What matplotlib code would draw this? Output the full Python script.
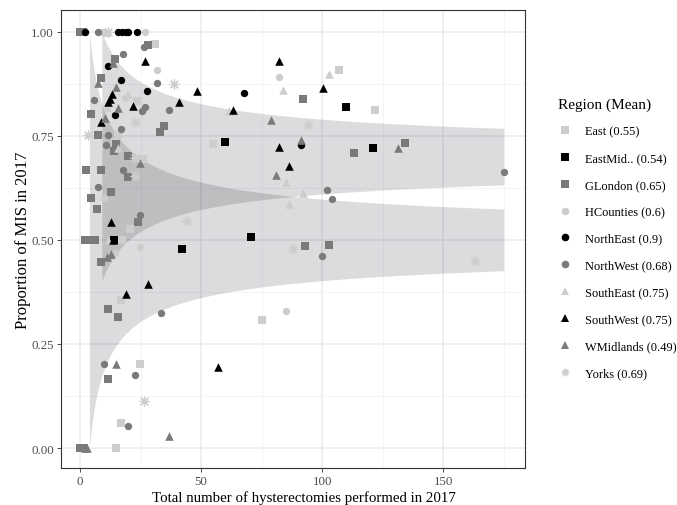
import matplotlib
matplotlib.use("Agg")
import matplotlib.pyplot as plt
from matplotlib.lines import Line2D
import numpy as np

plt.rcParams['font.family'] = ['Liberation Serif', 'DejaVu Serif']

# funnel settings (95% limits around two reference proportions)
Z = 1.96
P_UPPER = 0.70
P_LOWER = 0.50
N_MAX = 175

# points per region: (hysterectomies, proportion MIS)
east_x = [24.7, 16.7, 14.8, 75, 20.8, 17.5, 16.7, 14.6, 25.8, 30.9, 23.7, 15.7, 55, 106.9, 121.9]
east_y = [0.202, 0.060, 0.0, 0.308, 0.526, 0.5, 0.355, 0.734, 0.694, 0.970, 0.834, 0.752, 0.730, 0.908, 0.813]

eastmid_x = [0.5, 14, 41.9, 59.8, 70.8, 109.9, 121.2]
eastmid_y = [0.0, 0.5, 0.478, 0.734, 0.508, 0.820, 0.720]

glondon_x = [0, 1, 0, 1.5, 11.7, 15.7, 11.6, 8.8, 2, 4, 6, 23.8, 6.8, 4.7, 12.7, 19.6, 2.6, 8.8,
             19.6, 13.8, 7.4, 4.7, 34.7, 32.9, 8.8, 14.3, 27.9, 91.9, 113, 134.1, 93, 102.9, 15]
glondon_y = [1.0, 1.0, 0.0, 0.0, 0.167, 0.315, 0.335, 0.446, 0.5, 0.5, 0.5, 0.543, 0.574, 0.600, 0.616,
             0.651, 0.667, 0.667, 0.702, 0.714, 0.752, 0.802, 0.774, 0.758, 0.890, 0.934, 0.968,
             0.838, 0.709, 0.733, 0.485, 0.487, 0.730]

hcounties_x = [27, 9.5, 9.8, 24.7, 14.5, 31.6, 18.5, 82.1, 84.9]
hcounties_y = [1.0, 1.0, 0.600, 0.482, 0.468, 0.908, 0.842, 0.892, 0.330]

northeast_x = [2, 15.7, 17.4, 18.9, 19.8, 23.7, 11.6, 16.8, 27.6, 14.6, 67.8, 91.1]
northeast_y = [1.0, 1.0, 1.0, 1.0, 1.0, 1.0, 0.918, 0.884, 0.858, 0.800, 0.854, 0.728]

northwest_x = [7.3, 9.7, 22.6, 19.8, 33.6, 24.7, 7.5, 10.5, 17.8, 5.8, 36.8, 25.6, 26.6, 16.8,
               11.6, 17.8, 26.2, 31.6, 175.3, 102, 104, 100]
northwest_y = [1.0, 0.202, 0.175, 0.052, 0.324, 0.560, 0.626, 0.728, 0.667, 0.836, 0.812, 0.810,
               0.820, 0.766, 0.752, 0.946, 0.963, 0.876, 0.664, 0.619, 0.597, 0.461]

southeast_x = [10.5, 11.7, 15.6, 19.8, 10.9, 61.5, 83.9, 102.9, 85, 91.9, 86.1]
southeast_y = [1.0, 0.5, 0.720, 0.850, 0.820, 0.810, 0.860, 0.898, 0.638, 0.613, 0.585]

southwest_x = [56.8, 27.9, 18.8, 12.7, 13.6, 26.7, 13, 12.3, 11.6, 21.9, 8.8, 48.1, 40.8, 63,
               82.1, 100.2, 82.1, 86.1]
southwest_y = [0.195, 0.395, 0.371, 0.542, 0.5, 0.930, 0.850, 0.838, 0.831, 0.822, 0.782, 0.858,
               0.831, 0.812, 0.930, 0.864, 0.722, 0.678]

wmidlands_x = [2, 3, 14.8, 36.8, 10.9, 12.7, 24.8, 13.6, 7.4, 14.8, 15.7, 10.2, 79, 91.1, 131.2, 81]
wmidlands_y = [0.0, 0.0, 0.203, 0.030, 0.458, 0.466, 0.684, 0.926, 0.876, 0.868, 0.816, 0.792,
               0.788, 0.740, 0.721, 0.657]

yorks_x = [11.5, 26.4, 44, 22.6, 22.6, 38.6, 22.6, 3.3, 94, 87.9, 163.2]
yorks_y = [1.0, 0.112, 0.546, 0.696, 0.654, 0.874, 0.783, 0.752, 0.777, 0.478, 0.449]

labels = ['East (0.55)', 'EastMid.. (0.54)', 'GLondon (0.65)', 'HCounties (0.6)', 'NorthEast (0.9)',
          'NorthWest (0.68)', 'SouthEast (0.75)', 'SouthWest (0.75)', 'WMidlands (0.49)', 'Yorks (0.69)']

LIGHT = '#cdcdcd'
MID = '#7a7a7a'
DARK = '#000000'
ASTER = (8, 2, 0)

series = [
    (east_x, east_y, 's', LIGHT, 32),
    (eastmid_x, eastmid_y, 's', DARK, 32),
    (glondon_x, glondon_y, 's', MID, 32),
    (hcounties_x, hcounties_y, 'o', LIGHT, 28),
    (northeast_x, northeast_y, 'o', DARK, 28),
    (northwest_x, northwest_y, 'o', MID, 28),
    (southeast_x, southeast_y, '^', LIGHT, 38),
    (southwest_x, southwest_y, '^', DARK, 38),
    (wmidlands_x, wmidlands_y, '^', MID, 38),
    (yorks_x, yorks_y, ASTER, LIGHT, 48),
]


def funnel(p):
    n0 = Z ** 2 * p * (1 - p) / min(p, 1 - p) ** 2
    n = np.linspace(n0, N_MAX, 500)
    se = Z * np.sqrt(p * (1 - p) / n)
    return n, p - se, p + se


fig = plt.figure(figsize=(6.77, 5.06), dpi=100)
ax = fig.add_axes([0.0901, 0.0731, 0.6854, 0.905])

for p in (P_UPPER, P_LOWER):
    n, lo, hi = funnel(p)
    ax.fill_between(n, lo, hi, color='#10121c', alpha=0.145, linewidth=0, zorder=1)

for xs, ys, m, col, s in series:
    if m == ASTER:
        ax.scatter(xs, ys, marker=m, s=s, c=col, linewidths=0.9, zorder=3)
    else:
        ax.scatter(xs, ys, marker=m, s=s, c=col, linewidths=0, zorder=3)

ax.set_xlim(-7.9, 183.8)
ax.set_ylim(-0.048, 1.052)
ax.set_xticks([0, 50, 100, 150])
ax.set_xticks([25, 75, 125, 175], minor=True)
ax.set_yticks([0, 0.25, 0.5, 0.75, 1.0])
ax.set_yticklabels(['0.00', '0.25', '0.50', '0.75', '1.00'])
ax.set_yticks([0.125, 0.375, 0.625, 0.875], minor=True)
ax.grid(which='major', color='#e9ebef', linewidth=1.1, zorder=0)
ax.grid(which='minor', color='#f1f2f5', linewidth=0.6, zorder=0)
ax.set_axisbelow(True)
ax.tick_params(which='major', length=3.2, width=0.6, color='#333333', labelsize=9.3,
               labelcolor='#4d4d4d', pad=2)
ax.tick_params(which='minor', length=0)
for sp in ax.spines.values():
    sp.set_color('#333333')
    sp.set_linewidth(0.8)

ax.set_xlabel('Total number of hysterectomies performed in 2017', fontsize=10.7)
ax.xaxis.set_label_coords(0.524, -0.048)
ax.set_ylabel('Proportion of MIS in 2017', fontsize=12, labelpad=0)

handles = []
for (xs, ys, m, col, s), lab in zip(series, labels):
    handles.append(Line2D([], [], linestyle='none', marker=m, color=col,
                          markerfacecolor=col, markeredgewidth=0.9 if m == ASTER else 0,
                          markersize=5.5, label=lab))
fig.legend(handles=handles, title='Region (Mean)', loc='upper left',
           bbox_to_anchor=(0.8165, 0.816), frameon=False, fontsize=8.9,
           title_fontsize=11, labelspacing=1.2, handletextpad=1.0,
           handlelength=1.2, alignment='left', borderaxespad=0)

fig.savefig('out.png', dpi=100)
